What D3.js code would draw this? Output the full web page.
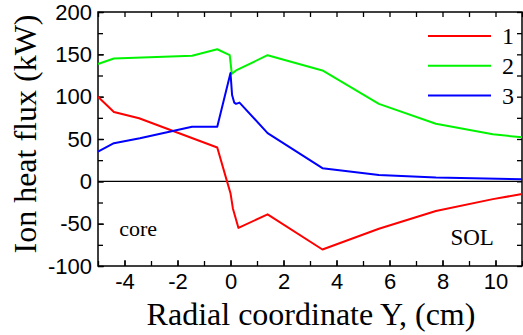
<!DOCTYPE html>
<html>
<head>
<meta charset="utf-8">
<script src="https://cdn.jsdelivr.net/npm/d3@7"></script>
<style>
  body { margin: 0; background: #fff; }
  svg { display: block; }
</style>
</head>
<body>
<div id="chart"></div>
<script>
let WIDTH = 523
let HEIGHT = 335
let margin = {top: 12, right: 1, bottom: 69, left: 98}

// series values
let s1X = [-5, -4.4, -3.45, -0.5, -0.15, 0, 0.09, 0.3, 1.4, 3.47, 5.6, 7.75, 9.9, 11]
let s1Y = [100, 82, 74.5, 40, 2, -14, -32, -55, -39, -80.5, -56, -35, -21, -15]
let s2X = [-5, -4.4, -1.45, -0.5, -0.03, 0.05, 0.21, 1.4, 3.47, 5.6, 7.75, 9.9, 11]
let s2Y = [138.5, 145, 148.3, 156, 149, 127, 131, 149, 131, 91.5, 68, 55.5, 52]
let s3X = [-5, -4.4, -3.42, -1.45, -0.5, 0, 0.06, 0.14, 0.21, 0.34, 1.4, 3.47, 5.6, 7.75, 11]
let s3Y = [35, 45, 51, 64.5, 64.5, 128, 102, 93, 91.5, 93, 57, 15.5, 7.5, 4.5, 2.4]

let seriesNames = ['1', '2', '3']
let seriesColors = ['#ff0000', '#00f400', '#0000ff']

let xTicks = [-4, -2, 0, 2, 4, 6, 8, 10]
let xMinor = d3.range(-5, 12, 1)
let yTicks = [-100, -50, 0, 50, 100, 150, 200]
let yMinor = d3.range(-100, 201, 25)

let innerW = WIDTH - margin.left - margin.right
let innerH = HEIGHT - margin.top - margin.bottom

let svg = d3.select('#chart')
    .append('svg')
    .attr('width', WIDTH)
    .attr('height', HEIGHT)

let g = svg.append('g')
    .attr('transform', `translate(${margin.left},${margin.top})`)

let x = d3.scaleLinear().domain([-5, 11]).range([0, innerW])
let y = d3.scaleLinear().domain([-100, 200]).range([innerH, 0])

// plain hyphen for negatives, like the original
let fmt = d => String(d)

let styleAxis = function(sel) {
    sel.select('.domain').remove()
    sel.selectAll('line').attr('stroke', '#000').attr('stroke-width', 1.3)
    sel.selectAll('text')
        .attr('fill', '#000')
        .style('font-family', '"Liberation Sans", Arial, sans-serif')
        .style('font-size', '22px')
}

// minor ticks, all four sides
g.append('g').attr('transform', `translate(0,${innerH})`)
    .call(d3.axisBottom(x).tickValues(xMinor).tickSize(-5).tickFormat(''))
    .call(styleAxis)
g.append('g')
    .call(d3.axisTop(x).tickValues(xMinor).tickSize(-5).tickFormat(''))
    .call(styleAxis)
g.append('g')
    .call(d3.axisLeft(y).tickValues(yMinor).tickSize(-5).tickFormat(''))
    .call(styleAxis)
g.append('g').attr('transform', `translate(${innerW},0)`)
    .call(d3.axisRight(y).tickValues(yMinor).tickSize(-5).tickFormat(''))
    .call(styleAxis)

// labelled axes
g.append('g').attr('transform', `translate(0,${innerH})`)
    .call(d3.axisBottom(x).tickValues(xTicks).tickSize(-6).tickPadding(7.5).tickFormat(fmt))
    .call(styleAxis)
g.append('g')
    .call(d3.axisLeft(y).tickValues(yTicks).tickSize(-6).tickPadding(6).tickFormat(fmt))
    .call(styleAxis)

// frame
g.append('rect')
    .attr('width', innerW)
    .attr('height', innerH)
    .attr('fill', 'none')
    .attr('stroke', '#000')
    .attr('stroke-width', 1.5)

// zero line
g.append('line')
    .attr('x1', 0).attr('x2', innerW)
    .attr('y1', y(0)).attr('y2', y(0))
    .attr('stroke', '#000')
    .attr('stroke-width', 1.3)

let line = d3.line()
    .x(d => x(d[0]))
    .y(d => y(d[1]))

let series = [
    d3.zip(s1X, s1Y),
    d3.zip(s2X, s2Y),
    d3.zip(s3X, s3Y)
]

g.selectAll('.series')
    .data(series)
    .join('path')
    .attr('class', 'series')
    .attr('d', line)
    .attr('fill', 'none')
    .attr('stroke', (d, i) => seriesColors[i])
    .attr('stroke-width', 2)
    .attr('stroke-linejoin', 'round')

// legend
let legend = g.append('g')
    .attr('transform', `translate(${innerW - 94},24)`)
seriesNames.forEach((name, i) => {
    let row = legend.append('g').attr('transform', `translate(0,${i * 29.8})`)
    row.append('line')
        .attr('x1', 0).attr('x2', 63)
        .attr('stroke', seriesColors[i])
        .attr('stroke-width', 2)
    row.append('text')
        .attr('x', 74)
        .attr('y', 8)
        .style('font-family', '"Liberation Serif", "Times New Roman", serif')
        .style('font-size', '24px')
        .text(name)
})

// region labels
g.append('text')
    .attr('x', x(-4.2))
    .attr('y', y(-64.5))
    .style('font-family', '"Liberation Serif", "Times New Roman", serif')
    .style('font-size', '22px')
    .text('core')
g.append('text')
    .attr('x', x(8.3))
    .attr('y', y(-75))
    .style('font-family', '"Liberation Serif", "Times New Roman", serif')
    .style('font-size', '23px')
    .text('SOL')

// axis titles
svg.append('text')
    .attr('x', 311)
    .attr('y', 325)
    .attr('text-anchor', 'middle')
    .style('font-family', '"Liberation Serif", "Times New Roman", serif')
    .style('font-size', '32px')
    .text('Radial coordinate Y, (cm)')
svg.append('text')
    .attr('transform', 'translate(36,134) rotate(-90)')
    .attr('text-anchor', 'middle')
    .style('font-family', '"Liberation Serif", "Times New Roman", serif')
    .style('font-size', '32px')
    .text('Ion heat flux (kW)')
</script>
</body>
</html>
